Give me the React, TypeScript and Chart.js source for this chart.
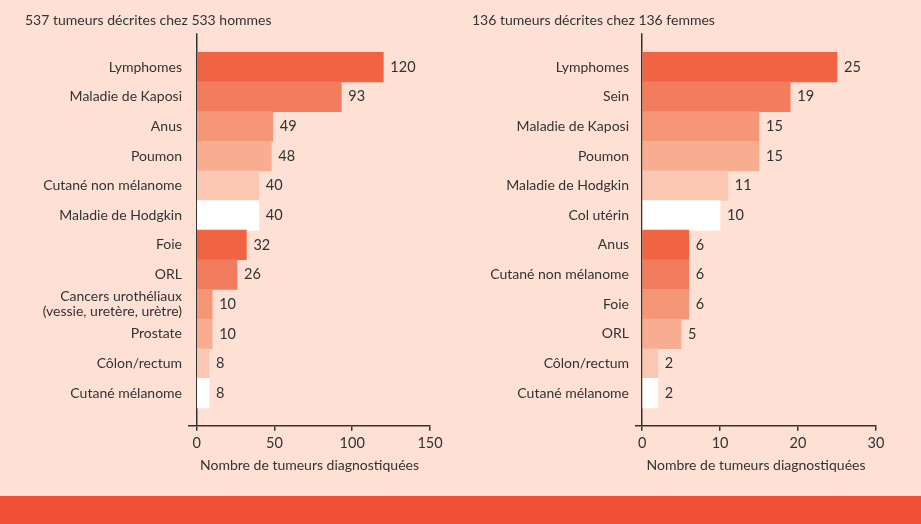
import React, { useEffect, useRef } from 'react';
import { Chart, registerables } from 'chart.js';

Chart.register(...registerables);

const menTitle = '537 tumeurs décrites chez 533 hommes';
const womenTitle = '136 tumeurs décrites chez 136 femmes';
const axisTitle = 'Nombre de tumeurs diagnostiquées';

const menCategories: (string | string[])[] = [
  'Lymphomes',
  'Maladie de Kaposi',
  'Anus',
  'Poumon',
  'Cutané non mélanome',
  'Maladie de Hodgkin',
  'Foie',
  'ORL',
  ['Cancers urothéliaux', '(vessie, uretère, urètre)'],
  'Prostate',
  'Côlon/rectum',
  'Cutané mélanome',
];
const menValues = [120, 93, 49, 48, 40, 40, 32, 26, 10, 10, 8, 8];
const menTicks = [0, 50, 100, 150];

const womenCategories: (string | string[])[] = [
  'Lymphomes',
  'Sein',
  'Maladie de Kaposi',
  'Poumon',
  'Maladie de Hodgkin',
  'Col utérin',
  'Anus',
  'Cutané non mélanome',
  'Foie',
  'ORL',
  'Côlon/rectum',
  'Cutané mélanome',
];
const womenValues = [25, 19, 15, 15, 11, 10, 6, 6, 6, 5, 2, 2];
const womenTicks = [0, 10, 20, 30];

const palette = ['#F06444', '#F27D5E', '#F59677', '#F8AD90', '#FBC7B2', '#FFFFFF'];

const FONT = 'Lato, "Liberation Sans", sans-serif';
const TEXT = '#333333';

const valueLabels = {
  id: 'valueLabels',
  afterDatasetsDraw(chart: any) {
    const ctx = chart.ctx;
    ctx.save();
    ctx.font = `14.5px ${FONT}`;
    ctx.fillStyle = TEXT;
    ctx.textAlign = 'left';
    ctx.textBaseline = 'middle';
    chart.data.datasets.forEach((ds: any, di: number) => {
      const meta = chart.getDatasetMeta(di);
      meta.data.forEach((bar: any, i: number) => {
        const v = ds.data[i].x;
        ctx.fillText(String(v), bar.x + 7, bar.y);
      });
    });
    ctx.restore();
  },
};

function makeConfig(
  title: string,
  categories: (string | string[])[],
  values: number[],
  ticks: number[],
  xMin: number
): any {
  return {
    type: 'bar',
    data: {
      datasets: [
        {
          data: values.map((v, i) => ({ x: v, y: i })),
          backgroundColor: values.map((_, i) => palette[i % palette.length]),
          borderWidth: 0,
          barPercentage: 1,
          categoryPercentage: 1,
        },
      ],
    },
    options: {
      indexAxis: 'y',
      animation: false,
      responsive: false,
      layout: { padding: { left: 0, right: 20, top: 0, bottom: 0 } },
      plugins: {
        legend: { display: false },
        tooltip: { enabled: false },
        title: {
          display: true,
          text: title,
          align: 'start',
          color: TEXT,
          font: { family: FONT, size: 14, weight: 'normal' },
          padding: { top: 12.5, bottom: 4 },
        },
      },
      scales: {
        y: {
          type: 'linear',
          reverse: true,
          offset: false,
          min: -1.14,
          max: 12.1,
          afterBuildTicks: (scale: any) => {
            scale.ticks = categories.map((_, i) => ({ value: i }));
          },
          afterFit: (scale: any) => {
            scale.width = 164;
          },
          grid: { display: false, drawTicks: false, offset: false },
          border: { display: false },
          ticks: {
            color: TEXT,
            padding: 7,
            autoSkip: false,
            font: { family: FONT, size: 14, lineHeight: 1.08 },
            callback: (value: number) => categories[value],
          },
        },
        x: {
          type: 'linear',
          min: xMin,
          max: ticks[ticks.length - 1],
          afterBuildTicks: (scale: any) => {
            scale.ticks = ticks.map((v) => ({ value: v }));
          },
          grid: {
            drawOnChartArea: true,
            drawTicks: true,
            tickLength: 5,
            tickColor: TEXT,
            tickWidth: 1.5,
            lineWidth: 1.5,
            color: (ctx: any) =>
              ctx.tick && ctx.tick.value === 0 ? TEXT : 'rgba(0,0,0,0)',
          },
          border: { display: true, color: TEXT, width: 1.5 },
          ticks: {
            color: TEXT,
            padding: 4,
            maxRotation: 0,
            font: { family: FONT, size: 14.5 },
          },
          title: {
            display: true,
            text: axisTitle,
            color: TEXT,
            font: { family: FONT, size: 14 },
            padding: { top: 1, bottom: 4 },
          },
        },
      },
    },
    plugins: [valueLabels],
  };
}

function BarPanel(props: {
  title: string;
  categories: (string | string[])[];
  values: number[];
  ticks: number[];
  xMin: number;
  left: number;
  width: number;
}) {
  const ref = useRef<HTMLCanvasElement | null>(null);
  useEffect(() => {
    if (!ref.current) return;
    const chart = new Chart(
      ref.current,
      makeConfig(props.title, props.categories, props.values, props.ticks, props.xMin)
    );
    return () => chart.destroy();
  }, []);
  return (
    <canvas
      ref={ref}
      width={props.width}
      height={478}
      style={{ position: 'absolute', left: props.left, top: 0, width: props.width, height: 478 }}
    />
  );
}

export default function App() {
  useEffect(() => {
    document.body.style.margin = '0';
  }, []);
  return (
    <div
      style={{
        position: 'fixed',
        left: 0,
        top: 0,
        width: 921,
        height: 524,
        background: '#FEE0D5',
        overflow: 'hidden',
      }}
    >
      <BarPanel
        title={menTitle}
        categories={menCategories}
        values={menValues}
        ticks={menTicks}
        xMin={-4.9}
        left={25}
        width={425}
      />
      <BarPanel
        title={womenTitle}
        categories={womenCategories}
        values={womenValues}
        ticks={womenTicks}
        xMin={-0.78}
        left={472}
        width={424}
      />
      <div
        style={{
          position: 'absolute',
          left: 0,
          top: 496,
          width: 921,
          height: 28,
          background: '#F05033',
        }}
      />
    </div>
  );
}
